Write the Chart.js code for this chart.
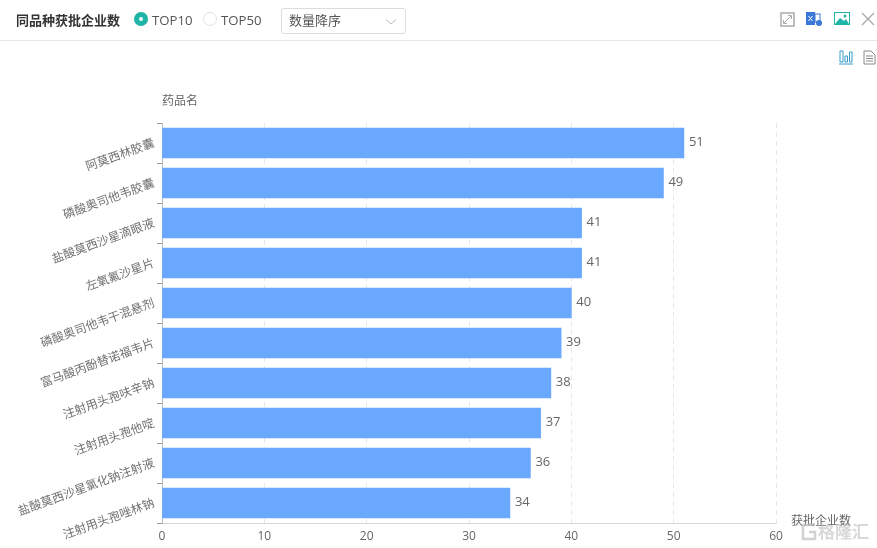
<!DOCTYPE html>
<html>
<head>
<meta charset="utf-8">
<script src="https://cdn.jsdelivr.net/npm/chart.js@4"></script>
<style>
  html, body { margin: 0; padding: 0; background: #fff; overflow: hidden; }
  body { width: 877px; height: 548px; position: relative; font-family: "Open Sans", "Noto Sans CJK SC", sans-serif; color: #555; }
  #header { position: absolute; left: 0; top: 0; width: 877px; height: 40px; border-bottom: 1px solid #e8e8e8; }
  #header > * { position: absolute; }
  .title { left: 16px; top: 10px; font-size: 13px; line-height: 20px; font-weight: bold; color: #333; }
  .radio { top: 12px; width: 14px; height: 14px; border-radius: 50%; box-sizing: border-box; }
  .radio.on { background: #1fb5a6; }
  .radio.on::after { content: ""; position: absolute; left: 5px; top: 5px; width: 4px; height: 4px; border-radius: 50%; background: #fff; }
  .radio.off { border: 1px solid #e0e0e0; }
  .rlabel { top: 10px; font-size: 13.2px; line-height: 20px; color: #555; }
  .select { left: 281px; top: 8px; width: 125px; height: 26px; box-sizing: border-box; border: 1px solid #dcdcdc; border-radius: 3px; font-size: 13px; line-height: 22px; padding-left: 7px; color: #555; }
  .select svg { position: absolute; right: 8px; top: 9px; }
  .icon { position: absolute; }
  #chart { position: absolute; left: 0; top: 0; }
  #mark { position: absolute; left: 818px; top: 520px; font-size: 17px; line-height: 24px; font-weight: bold; color: rgba(190,190,190,.6); }
</style>
</head>
<body>
<canvas id="chart" width="877" height="548"></canvas>
<div id="header">
  <div class="title">同品种获批企业数</div>
  <div class="radio on" style="left:134px"></div>
  <div class="rlabel" style="left:152px">TOP10</div>
  <div class="radio off" style="left:203px"></div>
  <div class="rlabel" style="left:221px">TOP50</div>
  <div class="select">数量降序
    <svg width="12" height="8"><path d="M1 1.5 L6 6 L11 1.5" fill="none" stroke="#bbb"/></svg>
  </div>
  <svg class="icon" style="left:780px;top:12px" width="16" height="15"><rect x="1" y="1" width="13" height="13" fill="none" stroke="#aaa" stroke-width="1.5"/><path d="M4 11 L11 4 M8 3.5 H11.5 V7 M3.5 8 V11.5 H7" fill="none" stroke="#aaa"/></svg>
  <svg class="icon" style="left:805px;top:11px" width="18" height="16"><rect x="1" y="1" width="9" height="13" fill="#3b78d8"/><path d="M3.500 5 L7.500 10 M7.500 5 L3.500 10" stroke="#fff"/><rect x="10" y="3" width="5" height="8" fill="none" stroke="#3b78d8"/><circle cx="14" cy="12" r="3" fill="#3b78d8"/></svg>
  <svg class="icon" style="left:834px;top:12px" width="16" height="14"><rect x="0.5" y="0.5" width="15" height="12" fill="#fff" stroke="#1fb5a6"/><path d="M1 12 L6 6 L10 9 L12 7 L15 12 Z" fill="#1fb5a6"/><circle cx="11" cy="4" r="1.5" fill="#1fb5a6"/></svg>
  <svg class="icon" style="left:861px;top:12px" width="14" height="14"><path d="M1 1 L13 13 M13 1 L1 13" stroke="#aaa" stroke-width="1.4"/></svg>
</div>
<svg class="icon" style="left:838px;top:50px" width="15" height="15"><path d="M2 1 V12 H5 V1 Z M7 6 V12 H9.5 V6 Z M11.5 2 V12 H14 V2 Z M1 14 H15" fill="none" stroke="#3b9ccf"/></svg>
<svg class="icon" style="left:863px;top:50px" width="13" height="15"><path d="M1 1 H8 L12 5 V14 H1 Z M3 6 H10 M3 8.500 H10 M3 11 H10" fill="none" stroke="#888"/></svg>
<svg class="icon" style="left:801px;top:523px" width="16" height="18"><path d="M14 2 H2 V16 H14 V9 H8" fill="none" stroke="rgba(190,190,190,.7)" stroke-width="2.500"/></svg>
<div id="mark">格隆汇</div>

<script>
const categories = ['阿莫西林胶囊', '磷酸奥司他韦胶囊', '盐酸莫西沙星滴眼液', '左氧氟沙星片', '磷酸奥司他韦干混悬剂',
    '富马酸丙酚替诺福韦片', '注射用头孢呋辛钠', '注射用头孢他啶', '盐酸莫西沙星氯化钠注射液', '注射用头孢唑林钠'];
const companyCounts = [51, 49, 41, 41, 40, 39, 38, 37, 36, 34];
const xTicks = [0, 10, 20, 30, 40, 50, 60];
const yAxisName = '药品名';
const xAxisName = '获批企业数';

const fontFamily = '"Open Sans", "Noto Sans CJK SC", sans-serif';

/* Draws the value labels and the two axis names */
const labelPlugin = {
    id: 'bar_value_labels',
    afterDatasetsDraw: (chart) => {
        const ctx = chart.ctx;
        const area = chart.chartArea;
        ctx.save();
        ctx.fillStyle = '#666';
        ctx.textBaseline = 'middle';
        ctx.textAlign = 'left';
        ctx.font = '13px ' + fontFamily;
        chart.getDatasetMeta(0).data.forEach((bar, i) => {
            ctx.fillText(companyCounts[i], bar.x + 5, bar.y - 1);
        });
        ctx.font = '12px ' + fontFamily;
        ctx.fillText(yAxisName, area.left, area.top - 21);
        ctx.fillText(xAxisName, area.right + 15, area.bottom - 1);
        ctx.restore();
    }
};

new Chart(document.getElementById('chart'), {
    type: 'bar',
    data: {
        labels: categories,
        datasets: [{
            data: companyCounts,
            backgroundColor: '#6aa7ff',
            barThickness: 30
        }]
    },
    options: {
        indexAxis: 'y',
        responsive: false,
        animation: false,
        layout: { padding: { top: 123, right: 101, bottom: 0, left: 0 } },
        plugins: { legend: { display: false }, tooltip: { enabled: false } },
        scales: {
            x: {
                min: 0,
                max: 60,
                afterBuildTicks: (axis) => { axis.ticks = xTicks.map((v) => ({ value: v })); },
                afterFit: (axis) => { axis.height = 25; },
                grid: { color: '#e8e8e8', drawTicks: false },
                border: { color: '#d8d8d8', dash: [5, 4] },
                ticks: { color: '#666', padding: 6, font: { size: 12, family: fontFamily } }
            },
            y: {
                afterFit: (axis) => { axis.width = 162; },
                grid: { drawOnChartArea: false, drawTicks: true, tickLength: 5, color: '#999' },
                border: { color: '#bbb' },
                ticks: {
                    color: '#707070',
                    padding: 3,
                    autoSkip: false,
                    minRotation: 20,
                    maxRotation: 20,
                    font: { size: 12, family: fontFamily }
                }
            }
        }
    },
    plugins: [labelPlugin]
});
</script>
</body>
</html>
